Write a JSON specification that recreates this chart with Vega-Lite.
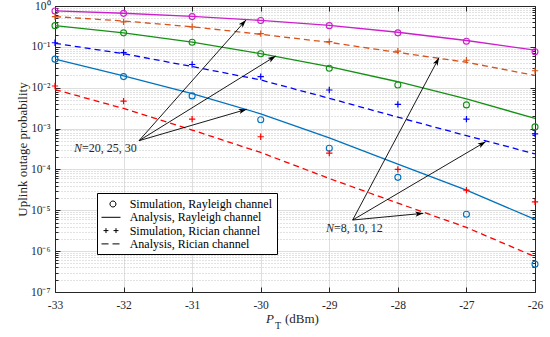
{
  "$schema": "https://vega.github.io/schema/vega-lite/v6.json",
  "width": 480,
  "height": 286,
  "autosize": "none",
  "padding": {"left": 55, "top": 6, "right": 15, "bottom": 45},
  "background": "white",
  "config": {
    "view": {"stroke": null},
    "font": "Liberation Serif",
    "axis": {
      "labelFont": "Liberation Serif",
      "titleFont": "Liberation Serif",
      "labelColor": "#262626",
      "titleColor": "#262626",
      "domainColor": "#262626",
      "tickColor": "#262626",
      "domainWidth": 1,
      "tickWidth": 1,
      "labelFlush": false,
      "labelBound": false,
      "labelOverlap": false,
      "titleFontWeight": "normal"
    }
  },
  "datasets": {
    "curves": [
      {"x": -33, "series": "Rayleigh N=30", "channel": "Rayleigh", "kind": "Simulation", "p": 0.755},
      {"x": -32, "series": "Rayleigh N=30", "channel": "Rayleigh", "kind": "Simulation", "p": 0.66},
      {"x": -31, "series": "Rayleigh N=30", "channel": "Rayleigh", "kind": "Simulation", "p": 0.55},
      {"x": -30, "series": "Rayleigh N=30", "channel": "Rayleigh", "kind": "Simulation", "p": 0.44},
      {"x": -29, "series": "Rayleigh N=30", "channel": "Rayleigh", "kind": "Simulation", "p": 0.33},
      {"x": -28, "series": "Rayleigh N=30", "channel": "Rayleigh", "kind": "Simulation", "p": 0.22},
      {"x": -27, "series": "Rayleigh N=30", "channel": "Rayleigh", "kind": "Simulation", "p": 0.137},
      {"x": -26, "series": "Rayleigh N=30", "channel": "Rayleigh", "kind": "Simulation", "p": 0.076},
      {"x": -33, "series": "Rayleigh N=30", "channel": "Rayleigh", "kind": "Analysis", "p": 0.76},
      {"x": -32, "series": "Rayleigh N=30", "channel": "Rayleigh", "kind": "Analysis", "p": 0.665},
      {"x": -31, "series": "Rayleigh N=30", "channel": "Rayleigh", "kind": "Analysis", "p": 0.555},
      {"x": -30, "series": "Rayleigh N=30", "channel": "Rayleigh", "kind": "Analysis", "p": 0.445},
      {"x": -29, "series": "Rayleigh N=30", "channel": "Rayleigh", "kind": "Analysis", "p": 0.335},
      {"x": -28, "series": "Rayleigh N=30", "channel": "Rayleigh", "kind": "Analysis", "p": 0.228},
      {"x": -27, "series": "Rayleigh N=30", "channel": "Rayleigh", "kind": "Analysis", "p": 0.143},
      {"x": -26, "series": "Rayleigh N=30", "channel": "Rayleigh", "kind": "Analysis", "p": 0.083},
      {"x": -33, "series": "Rician N=12", "channel": "Rician", "kind": "Simulation", "p": 0.55},
      {"x": -32, "series": "Rician N=12", "channel": "Rician", "kind": "Simulation", "p": 0.41},
      {"x": -31, "series": "Rician N=12", "channel": "Rician", "kind": "Simulation", "p": 0.31},
      {"x": -30, "series": "Rician N=12", "channel": "Rician", "kind": "Simulation", "p": 0.21},
      {"x": -29, "series": "Rician N=12", "channel": "Rician", "kind": "Simulation", "p": 0.134},
      {"x": -28, "series": "Rician N=12", "channel": "Rician", "kind": "Simulation", "p": 0.079},
      {"x": -27, "series": "Rician N=12", "channel": "Rician", "kind": "Simulation", "p": 0.047},
      {"x": -26, "series": "Rician N=12", "channel": "Rician", "kind": "Simulation", "p": 0.026},
      {"x": -33, "series": "Rician N=12", "channel": "Rician", "kind": "Analysis", "p": 0.55},
      {"x": -32, "series": "Rician N=12", "channel": "Rician", "kind": "Analysis", "p": 0.43},
      {"x": -31, "series": "Rician N=12", "channel": "Rician", "kind": "Analysis", "p": 0.31},
      {"x": -30, "series": "Rician N=12", "channel": "Rician", "kind": "Analysis", "p": 0.203},
      {"x": -29, "series": "Rician N=12", "channel": "Rician", "kind": "Analysis", "p": 0.129},
      {"x": -28, "series": "Rician N=12", "channel": "Rician", "kind": "Analysis", "p": 0.073},
      {"x": -27, "series": "Rician N=12", "channel": "Rician", "kind": "Analysis", "p": 0.042},
      {"x": -26, "series": "Rician N=12", "channel": "Rician", "kind": "Analysis", "p": 0.020},
      {"x": -33, "series": "Rayleigh N=25", "channel": "Rayleigh", "kind": "Simulation", "p": 0.33},
      {"x": -32, "series": "Rayleigh N=25", "channel": "Rayleigh", "kind": "Simulation", "p": 0.22},
      {"x": -31, "series": "Rayleigh N=25", "channel": "Rayleigh", "kind": "Simulation", "p": 0.13},
      {"x": -30, "series": "Rayleigh N=25", "channel": "Rayleigh", "kind": "Simulation", "p": 0.068},
      {"x": -29, "series": "Rayleigh N=25", "channel": "Rayleigh", "kind": "Simulation", "p": 0.030},
      {"x": -28, "series": "Rayleigh N=25", "channel": "Rayleigh", "kind": "Simulation", "p": 0.0117},
      {"x": -27, "series": "Rayleigh N=25", "channel": "Rayleigh", "kind": "Simulation", "p": 0.0038},
      {"x": -26, "series": "Rayleigh N=25", "channel": "Rayleigh", "kind": "Simulation", "p": 0.0011},
      {"x": -33, "series": "Rayleigh N=25", "channel": "Rayleigh", "kind": "Analysis", "p": 0.33},
      {"x": -32, "series": "Rayleigh N=25", "channel": "Rayleigh", "kind": "Analysis", "p": 0.22},
      {"x": -31, "series": "Rayleigh N=25", "channel": "Rayleigh", "kind": "Analysis", "p": 0.13},
      {"x": -30, "series": "Rayleigh N=25", "channel": "Rayleigh", "kind": "Analysis", "p": 0.068},
      {"x": -29, "series": "Rayleigh N=25", "channel": "Rayleigh", "kind": "Analysis", "p": 0.0327},
      {"x": -28, "series": "Rayleigh N=25", "channel": "Rayleigh", "kind": "Analysis", "p": 0.014},
      {"x": -27, "series": "Rayleigh N=25", "channel": "Rayleigh", "kind": "Analysis", "p": 0.0053},
      {"x": -26, "series": "Rayleigh N=25", "channel": "Rayleigh", "kind": "Analysis", "p": 0.00178},
      {"x": -33, "series": "Rician N=10", "channel": "Rician", "kind": "Simulation", "p": 0.126},
      {"x": -32, "series": "Rician N=10", "channel": "Rician", "kind": "Simulation", "p": 0.072},
      {"x": -31, "series": "Rician N=10", "channel": "Rician", "kind": "Simulation", "p": 0.037},
      {"x": -30, "series": "Rician N=10", "channel": "Rician", "kind": "Simulation", "p": 0.0186},
      {"x": -29, "series": "Rician N=10", "channel": "Rician", "kind": "Simulation", "p": 0.0088},
      {"x": -28, "series": "Rician N=10", "channel": "Rician", "kind": "Simulation", "p": 0.0039},
      {"x": -27, "series": "Rician N=10", "channel": "Rician", "kind": "Simulation", "p": 0.0017},
      {"x": -26, "series": "Rician N=10", "channel": "Rician", "kind": "Simulation", "p": 0.00074},
      {"x": -33, "series": "Rician N=10", "channel": "Rician", "kind": "Analysis", "p": 0.122},
      {"x": -32, "series": "Rician N=10", "channel": "Rician", "kind": "Analysis", "p": 0.068},
      {"x": -31, "series": "Rician N=10", "channel": "Rician", "kind": "Analysis", "p": 0.033},
      {"x": -30, "series": "Rician N=10", "channel": "Rician", "kind": "Analysis", "p": 0.0155},
      {"x": -29, "series": "Rician N=10", "channel": "Rician", "kind": "Analysis", "p": 0.0055},
      {"x": -28, "series": "Rician N=10", "channel": "Rician", "kind": "Analysis", "p": 0.0019},
      {"x": -27, "series": "Rician N=10", "channel": "Rician", "kind": "Analysis", "p": 0.00067},
      {"x": -26, "series": "Rician N=10", "channel": "Rician", "kind": "Analysis", "p": 0.00024},
      {"x": -33, "series": "Rayleigh N=20", "channel": "Rayleigh", "kind": "Simulation", "p": 0.050},
      {"x": -32, "series": "Rayleigh N=20", "channel": "Rayleigh", "kind": "Simulation", "p": 0.0187},
      {"x": -31, "series": "Rayleigh N=20", "channel": "Rayleigh", "kind": "Simulation", "p": 0.0063},
      {"x": -30, "series": "Rayleigh N=20", "channel": "Rayleigh", "kind": "Simulation", "p": 0.00165},
      {"x": -29, "series": "Rayleigh N=20", "channel": "Rayleigh", "kind": "Simulation", "p": 0.00033},
      {"x": -28, "series": "Rayleigh N=20", "channel": "Rayleigh", "kind": "Simulation", "p": 0.000064},
      {"x": -27, "series": "Rayleigh N=20", "channel": "Rayleigh", "kind": "Simulation", "p": 0.0000080},
      {"x": -26, "series": "Rayleigh N=20", "channel": "Rayleigh", "kind": "Simulation", "p": 0.00000048},
      {"x": -33, "series": "Rayleigh N=20", "channel": "Rayleigh", "kind": "Analysis", "p": 0.050},
      {"x": -32, "series": "Rayleigh N=20", "channel": "Rayleigh", "kind": "Analysis", "p": 0.0195},
      {"x": -31, "series": "Rayleigh N=20", "channel": "Rayleigh", "kind": "Analysis", "p": 0.0072},
      {"x": -30, "series": "Rayleigh N=20", "channel": "Rayleigh", "kind": "Analysis", "p": 0.0023},
      {"x": -29, "series": "Rayleigh N=20", "channel": "Rayleigh", "kind": "Analysis", "p": 0.00059},
      {"x": -28, "series": "Rayleigh N=20", "channel": "Rayleigh", "kind": "Analysis", "p": 0.000135},
      {"x": -27, "series": "Rayleigh N=20", "channel": "Rayleigh", "kind": "Analysis", "p": 0.000031},
      {"x": -26, "series": "Rayleigh N=20", "channel": "Rayleigh", "kind": "Analysis", "p": 0.0000060},
      {"x": -33, "series": "Rician N=8", "channel": "Rician", "kind": "Simulation", "p": 0.011},
      {"x": -32, "series": "Rician N=8", "channel": "Rician", "kind": "Simulation", "p": 0.0047},
      {"x": -31, "series": "Rician N=8", "channel": "Rician", "kind": "Simulation", "p": 0.0017},
      {"x": -30, "series": "Rician N=8", "channel": "Rician", "kind": "Simulation", "p": 0.00063},
      {"x": -29, "series": "Rician N=8", "channel": "Rician", "kind": "Simulation", "p": 0.00025},
      {"x": -28, "series": "Rician N=8", "channel": "Rician", "kind": "Simulation", "p": 0.0001},
      {"x": -27, "series": "Rician N=8", "channel": "Rician", "kind": "Simulation", "p": 0.000031},
      {"x": -26, "series": "Rician N=8", "channel": "Rician", "kind": "Simulation", "p": 0.000016},
      {"x": -33, "series": "Rician N=8", "channel": "Rician", "kind": "Analysis", "p": 0.009},
      {"x": -32, "series": "Rician N=8", "channel": "Rician", "kind": "Analysis", "p": 0.0031},
      {"x": -31, "series": "Rician N=8", "channel": "Rician", "kind": "Analysis", "p": 0.00092},
      {"x": -30, "series": "Rician N=8", "channel": "Rician", "kind": "Analysis", "p": 0.00026},
      {"x": -29, "series": "Rician N=8", "channel": "Rician", "kind": "Analysis", "p": 0.000060},
      {"x": -28, "series": "Rician N=8", "channel": "Rician", "kind": "Analysis", "p": 0.000015},
      {"x": -27, "series": "Rician N=8", "channel": "Rician", "kind": "Analysis", "p": 0.0000038},
      {"x": -26, "series": "Rician N=8", "channel": "Rician", "kind": "Analysis", "p": 0.00000073}
    ],
    "legendItems": [
      {"label": "Simulation, Rayleigh channel", "x": -33, "p": 1e-9},
      {"label": "Analysis, Rayleigh channel", "x": -33, "p": 1e-9},
      {"label": "Simulation, Rician channel", "x": -33, "p": 1e-9},
      {"label": "Analysis, Rician channel", "x": -33, "p": 1e-9}
    ],
    "arrows": [
      {"x": -31.775, "p": 0.000505, "x2": -30.215, "p2": 0.4539, "angle": 41.6},
      {"x": -31.775, "p": 0.000505, "x2": -29.781, "p2": 0.0597, "angle": 58.2},
      {"x": -31.775, "p": 0.000505, "x2": -30.204, "p2": 0.002965, "angle": 73.7},
      {"x": -28.659, "p": 0.00000578, "x2": -27.400, "p2": 0.0543, "angle": 28.0},
      {"x": -28.659, "p": 0.00000578, "x2": -26.719, "p2": 0.0004775, "angle": 59.5},
      {"x": -28.659, "p": 0.00000578, "x2": -27.629, "p2": 0.00000843, "angle": 84.6}
    ],
    "notes": [
      {"x": -32.723, "p": 0.000340, "text": "N", "part": "var"},
      {"x": -32.606, "p": 0.000340, "text": "=20, 25, 30", "part": "rest"},
      {"x": -29.048, "p": 0.00000362, "text": "N", "part": "var"},
      {"x": -28.931, "p": 0.00000362, "text": "=8, 10, 12", "part": "rest"}
    ],
    "xtitle": [
      {"x": -29.923, "p": 1.742e-8, "text": "P", "part": "main"},
      {"x": -29.792, "p": 1.244e-8, "text": "T", "part": "sub"},
      {"x": -29.646, "p": 1.742e-8, "text": "(dBm)", "part": "unit"}
    ]
  },
  "layer": [
    {
      "data": {"name": "curves"},
      "transform": [{"filter": "datum.kind == 'Analysis' && datum.channel == 'Rayleigh'"}],
      "mark": {"type": "line", "strokeWidth": 1.3},
      "encoding": {
        "x": {"field": "x", "type": "quantitative", "scale": {"domain": [-33, -26], "nice": false, "zero": false},
          "axis": {"orient": "bottom", "values": [-33, -32, -31, -30, -29, -28, -27, -26], "labelExpr": "'' + datum.value",
            "grid": true, "gridColor": "#dedede", "gridWidth": 1, "tickSize": -5, "labelPadding": 12, "labelFontSize": 11.5, "title": null}},
        "y": {"field": "p", "type": "quantitative", "scale": {"type": "log", "domain": [1e-7, 1], "nice": false},
          "axis": {"orient": "left",
            "values": [1e-7, 2e-7, 3e-7, 4e-7, 5e-7, 6e-7, 7e-7, 8e-7, 9e-7, 1e-6, 2e-6, 3e-6, 4e-6, 5e-6, 6e-6, 7e-6, 8e-6, 9e-6, 1e-5, 2e-5, 3e-5, 4e-5, 5e-5, 6e-5, 7e-5, 8e-5, 9e-5, 1e-4, 2e-4, 3e-4, 4e-4, 5e-4, 6e-4, 7e-4, 8e-4, 9e-4, 1e-3, 2e-3, 3e-3, 4e-3, 5e-3, 6e-3, 7e-3, 8e-3, 9e-3, 1e-2, 2e-2, 3e-2, 4e-2, 5e-2, 6e-2, 7e-2, 8e-2, 9e-2, 0.1, 0.2, 0.3, 0.4, 0.5, 0.6, 0.7, 0.8, 0.9, 1],
            "labelExpr": "abs(log(datum.value)/LN10 - round(log(datum.value)/LN10)) < 0.01 ? '10' + ['⁻⁷','⁻⁶','⁻⁵','⁻⁴','⁻³','⁻²','⁻¹','⁰'][round(log(datum.value)/LN10) + 7] : ''",
            "grid": true,
            "gridColor": {"condition": {"test": "abs(log(datum.value)/LN10 - round(log(datum.value)/LN10)) < 0.01", "value": "#dedede"}, "value": "#c4c4c4"},
            "gridDash": {"condition": {"test": "abs(log(datum.value)/LN10 - round(log(datum.value)/LN10)) < 0.01", "value": []}, "value": [1, 2]},
            "tickSize": {"condition": {"test": "abs(log(datum.value)/LN10 - round(log(datum.value)/LN10)) < 0.01", "value": -5}, "value": -3},
            "labelPadding": 10, "labelFontSize": 11.5, "labelBaseline": "middle",
            "title": "Uplink outage probability", "titleFontSize": 13, "titlePadding": 1}},
        "color": {"field": "series", "type": "nominal", "legend": null,
          "scale": {"domain": ["Rayleigh N=30", "Rician N=12", "Rayleigh N=25", "Rician N=10", "Rayleigh N=20", "Rician N=8"],
            "range": ["#cc1fcc", "#d95319", "#159115", "#0000ff", "#0072bd", "#ff0000"]}}
      }
    },
    {
      "data": {"name": "curves"},
      "transform": [{"filter": "datum.kind == 'Analysis' && datum.channel == 'Rician'"}],
      "mark": {"type": "line", "strokeWidth": 1.3, "strokeDash": [6, 4]},
      "encoding": {
        "x": {"field": "x", "type": "quantitative", "scale": {"domain": [-33, -26], "nice": false, "zero": false},
          "axis": {"orient": "top", "values": [-33, -32, -31, -30, -29, -28, -27, -26], "labels": false, "grid": false, "tickSize": -5, "title": null}},
        "y": {"field": "p", "type": "quantitative", "scale": {"type": "log", "domain": [1e-7, 1], "nice": false},
          "axis": {"orient": "right",
            "values": [1e-7, 2e-7, 3e-7, 4e-7, 5e-7, 6e-7, 7e-7, 8e-7, 9e-7, 1e-6, 2e-6, 3e-6, 4e-6, 5e-6, 6e-6, 7e-6, 8e-6, 9e-6, 1e-5, 2e-5, 3e-5, 4e-5, 5e-5, 6e-5, 7e-5, 8e-5, 9e-5, 1e-4, 2e-4, 3e-4, 4e-4, 5e-4, 6e-4, 7e-4, 8e-4, 9e-4, 1e-3, 2e-3, 3e-3, 4e-3, 5e-3, 6e-3, 7e-3, 8e-3, 9e-3, 1e-2, 2e-2, 3e-2, 4e-2, 5e-2, 6e-2, 7e-2, 8e-2, 9e-2, 0.1, 0.2, 0.3, 0.4, 0.5, 0.6, 0.7, 0.8, 0.9, 1],
            "labels": false, "grid": false,
            "tickSize": {"condition": {"test": "abs(log(datum.value)/LN10 - round(log(datum.value)/LN10)) < 0.01", "value": -5}, "value": -3},
            "title": null}},
        "color": {"field": "series", "type": "nominal", "legend": null}
      }
    },
    {
      "data": {"name": "curves"},
      "transform": [{"filter": "datum.kind == 'Simulation' && datum.channel == 'Rayleigh'"}],
      "mark": {"type": "point", "shape": "circle", "filled": false, "size": 36, "strokeWidth": 1.1, "opacity": 1},
      "encoding": {
        "x": {"field": "x", "type": "quantitative", "axis": null},
        "y": {"field": "p", "type": "quantitative", "axis": null},
        "color": {"field": "series", "type": "nominal", "legend": null}
      }
    },
    {
      "data": {"name": "curves"},
      "transform": [{"filter": "datum.kind == 'Simulation' && datum.channel == 'Rician'"}],
      "mark": {"type": "point", "shape": "M-1,0H1M0,-1V1", "filled": false, "size": 40, "strokeWidth": 1.2, "opacity": 1},
      "encoding": {
        "x": {"field": "x", "type": "quantitative", "axis": null},
        "y": {"field": "p", "type": "quantitative", "axis": null},
        "color": {"field": "series", "type": "nominal", "legend": null}
      }
    },
    {
      "data": {"name": "legendItems"},
      "mark": {"type": "point", "filled": false, "clip": true, "color": "black", "size": 169, "strokeWidth": 1, "opacity": 1},
      "encoding": {
        "x": {"field": "x", "type": "quantitative", "axis": null},
        "y": {"field": "p", "type": "quantitative", "axis": null},
        "shape": {"field": "label", "type": "nominal",
          "scale": {"domain": ["Simulation, Rayleigh channel", "Analysis, Rayleigh channel", "Simulation, Rician channel", "Analysis, Rician channel"],
            "range": ["M0.76,0A0.46,0.46,0,1,1,-0.16,0A0.46,0.46,0,1,1,0.76,0Z", "M-1.46,0H1.46", "M-1.15,0H-0.39M-0.77,-0.38V0.38M0.39,0H1.15M0.77,-0.38V0.38", "M-1.46,0H-0.38M0.23,0H1.31"]},
          "legend": {"orient": "none", "legendX": 42, "legendY": 187, "title": null, "padding": 4,
            "strokeColor": "#000000", "fillColor": "#ffffff", "labelFont": "Liberation Serif", "labelFontSize": 12,
            "labelColor": "#000000", "symbolSize": 169, "symbolStrokeWidth": 1, "symbolStrokeColor": "#000000",
            "symbolFillColor": "transparent", "rowPadding": 0.3, "labelOffset": 11.7, "symbolOffset": 3, "labelLimit": 400,
            "labelExpr": "datum.label + '\u00a0\u00a0'"}}
      }
    },
    {
      "data": {"name": "arrows"},
      "mark": {"type": "rule", "color": "black", "strokeWidth": 0.9},
      "encoding": {
        "x": {"field": "x", "type": "quantitative", "axis": null},
        "y": {"field": "p", "type": "quantitative", "axis": null},
        "x2": {"field": "x2"},
        "y2": {"field": "p2"}
      }
    },
    {
      "data": {"name": "arrows"},
      "mark": {"type": "point", "shape": "M0,0L-1.3,4L0,3L1.3,4Z", "filled": true, "color": "black", "size": 16, "opacity": 1, "strokeWidth": 0},
      "encoding": {
        "x": {"field": "x2", "type": "quantitative", "axis": null},
        "y": {"field": "p2", "type": "quantitative", "axis": null},
        "angle": {"field": "angle", "type": "quantitative", "scale": null}
      }
    },
    {
      "data": {"name": "notes"},
      "transform": [{"filter": "datum.part == 'var'"}],
      "mark": {"type": "text", "font": "Liberation Serif", "fontSize": 12, "fontStyle": "italic", "align": "left", "baseline": "middle", "color": "#262626"},
      "encoding": {
        "x": {"field": "x", "type": "quantitative", "axis": null},
        "y": {"field": "p", "type": "quantitative", "axis": null},
        "text": {"field": "text"}
      }
    },
    {
      "data": {"name": "notes"},
      "transform": [{"filter": "datum.part == 'rest'"}],
      "mark": {"type": "text", "font": "Liberation Serif", "fontSize": 12, "align": "left", "baseline": "middle", "color": "#262626"},
      "encoding": {
        "x": {"field": "x", "type": "quantitative", "axis": null},
        "y": {"field": "p", "type": "quantitative", "axis": null},
        "text": {"field": "text"}
      }
    },
    {
      "data": {"name": "xtitle"},
      "transform": [{"filter": "datum.part == 'main'"}],
      "mark": {"type": "text", "font": "Liberation Serif", "fontSize": 13, "fontStyle": "italic", "align": "left", "baseline": "alphabetic", "color": "#262626"},
      "encoding": {
        "x": {"field": "x", "type": "quantitative", "axis": null},
        "y": {"field": "p", "type": "quantitative", "axis": null},
        "text": {"field": "text"}
      }
    },
    {
      "data": {"name": "xtitle"},
      "transform": [{"filter": "datum.part == 'sub'"}],
      "mark": {"type": "text", "font": "Liberation Serif", "fontSize": 10, "align": "left", "baseline": "alphabetic", "color": "#262626"},
      "encoding": {
        "x": {"field": "x", "type": "quantitative", "axis": null},
        "y": {"field": "p", "type": "quantitative", "axis": null},
        "text": {"field": "text"}
      }
    },
    {
      "data": {"name": "xtitle"},
      "transform": [{"filter": "datum.part == 'unit'"}],
      "mark": {"type": "text", "font": "Liberation Serif", "fontSize": 13, "align": "left", "baseline": "alphabetic", "color": "#262626"},
      "encoding": {
        "x": {"field": "x", "type": "quantitative", "axis": null},
        "y": {"field": "p", "type": "quantitative", "axis": null},
        "text": {"field": "text"}
      }
    }
  ],
  "resolve": {"axis": {"x": "independent", "y": "independent"}}
}
